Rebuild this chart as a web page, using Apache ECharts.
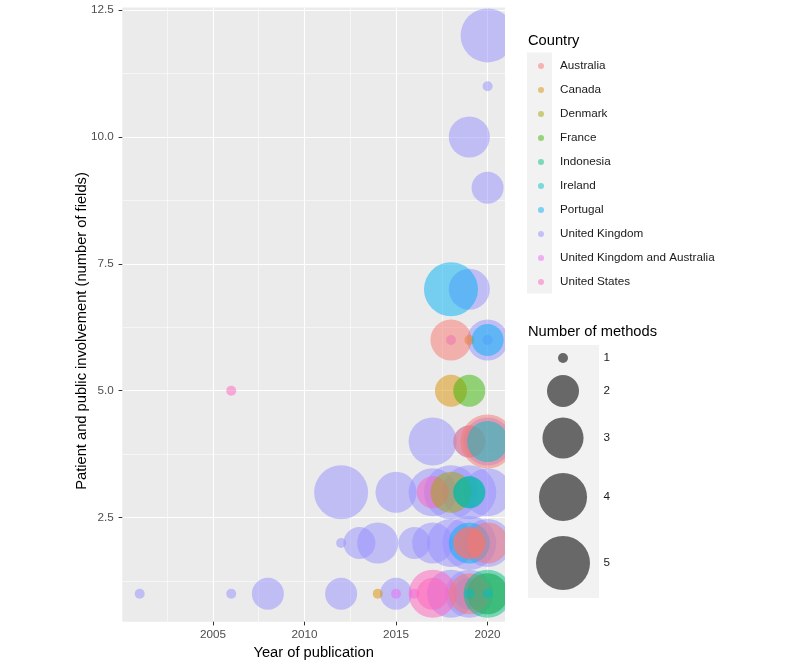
<!DOCTYPE html>
<html><head><meta charset="utf-8">
<script src="https://cdn.jsdelivr.net/npm/echarts@6/dist/echarts.min.js"></script>
<style>html,body{margin:0;padding:0;background:#fff}#c{width:800px;height:667px}</style>
</head><body><div id="c"></div>
<script>
// ---- data: [year of publication, PPI fields, number of methods] ----
const countries = ['Australia','Canada','Denmark','France','Indonesia','Ireland','Portugal','United Kingdom','United Kingdom and Australia','United States'];
const countryColors = ['#F8766D','#D89000','#A3A500','#39B600','#00BF7D','#00BFC4','#00B0F6','#9590FF','#E76BF3','#FF62BC'];
const unitedKingdom = [
  [2001,1,1],[2006,1,1],[2008,1,2],[2012,1,2],[2015,1,2],[2018,1,4],[2019,1,4],[2019,1,2],[2020,1,3],
  [2012,2,1],[2013,2,2],[2014,2,3],[2016,2,2],[2017,2,3],[2018,2,4],[2019,2,5],[2020,2,4],
  [2012,3,5],[2015,3,3],[2017,3,4],[2018,3,5],[2019,3,5],[2020,3,4],[2019,3,1],
  [2017,4,4],[2019,4,2],[2020,4,4],
  [2020,6,3],[2020,6,1],
  [2019,7,3],[2020,9,2],[2019,10,3],[2020,11,1],[2020,12,5]
];
const australia = [[2018,6,3],[2019,4,2],[2020,4,5],[2019,2,2],[2019,2,2],[2020,2,3],[2019,1,3]];
const canada = [[2014,1,1],[2018,5,2],[2019,6,1]];
const denmark = [[2018,3,3]];
const france = [[2019,5,2],[2020,1,3]];
const indonesia = [[2019,3,2],[2020,1,4]];
const ireland = [[2020,4,3],[2019,1,1],[2020,1,1]];
const portugal = [[2018,7,5],[2020,6,2],[2019,3,2],[2019,2,3]];
const ukAndAustralia = [[2018,6,1],[2015,1,1],[2016,1,1]];
const unitedStates = [[2006,5,1],[2017,3,2],[2017,1,4],[2017,1,2]];
const xTicks = [2005,2010,2015,2020];
const yTicks = [2.5,5,7.5,10,12.5];
const sizeBreaks = [1,2,3,4,5];

const byCountry = {
  'Australia': australia, 'Canada': canada, 'Denmark': denmark, 'France': france,
  'Indonesia': indonesia, 'Ireland': ireland, 'Portugal': portugal,
  'United Kingdom': unitedKingdom, 'United Kingdom and Australia': ukAndAustralia,
  'United States': unitedStates
};
const drawOrder = ['United Kingdom','United Kingdom and Australia','United States','Canada','France','Denmark','Portugal','Australia','Indonesia','Ireland'];

const FONT = '"Liberation Sans", Arial, Helvetica, sans-serif';
const sizeOf = n => 10 + 44 * Math.sqrt((n - 1) / 4);
const xMin = 2000.05, xMax = 2020.95, yMin = 0.45, yMax = 12.55;
const xMinor = xTicks.map(t => t - 2.5);
const yMinor = yTicks.map(t => t - 1.25);

const chart = echarts.init(document.getElementById('c'));

const series = drawOrder.map(name => ({
  type: 'scatter', name: name, data: byCountry[name],
  xAxisIndex: 0, yAxisIndex: 0,
  symbol: 'circle',
  symbolSize: v => sizeOf(v[2]),
  itemStyle: { color: countryColors[countries.indexOf(name)], opacity: 0.5 },
  emphasis: { disabled: true }, silent: true, clip: false, z: 2
}));

// legend decorations + size legend
const sizeCenters = [358, 391, 438, 497, 563];
const graphics = [
  { type: 'rect', shape: { x: 527, y: 52.5, width: 25, height: 241 }, style: { fill: '#F2F2F2' }, z: 0, silent: true },
  { type: 'text', x: 528, y: 40.5, style: { text: 'Country', fontSize: 14.7, fontFamily: FONT, fill: '#000', verticalAlign: 'middle' }, silent: true },
  { type: 'text', x: 528, y: 332, style: { text: 'Number of methods', fontSize: 14.7, fontFamily: FONT, fill: '#000', verticalAlign: 'middle' }, silent: true },
  { type: 'rect', shape: { x: 528, y: 345, width: 71, height: 253 }, style: { fill: '#F2F2F2' }, z: 0, silent: true },
  { type: 'text', x: 82, y: 331, rotation: Math.PI / 2,
    style: { text: 'Patient and public involvement (number of fields)', fontSize: 14.7, fontFamily: FONT, fill: '#000', align: 'center', verticalAlign: 'middle' }, silent: true }
];
sizeBreaks.forEach((n, i) => {
  graphics.push({ type: 'circle', shape: { cx: 563, cy: sizeCenters[i], r: sizeOf(n) / 2 }, style: { fill: 'rgba(0,0,0,0.57)' }, z: 1, silent: true });
  graphics.push({ type: 'text', x: 603.5, y: sizeCenters[i], style: { text: String(n), fontSize: 11.7, fontFamily: FONT, fill: '#1A1A1A', verticalAlign: 'middle' }, z: 1, silent: true });
});

const option = {
  animation: false,
  backgroundColor: '#fff',
  grid: { left: 122.3, right: 295, top: 7.5, bottom: 45.3, show: true, backgroundColor: '#EBEBEB', borderWidth: 0 },
  xAxis: [
    { type: 'value', min: xMin, max: xMax,
      axisLine: { show: false },
      axisTick: { show: true, length: 3.7, customValues: xTicks, lineStyle: { color: '#333333', width: 1 } },
      axisLabel: { customValues: xTicks, color: '#4D4D4D', fontSize: 11.7, fontFamily: FONT, margin: 7, formatter: v => String(v) },
      splitLine: { show: true, lineStyle: { color: '#FFFFFF', width: 1.1 } },
      name: 'Year of publication', nameLocation: 'middle', nameGap: 20,
      nameTextStyle: { fontSize: 14.7, fontFamily: FONT, color: '#000' } },
    { type: 'value', min: xMin, max: xMax, gridIndex: 0,
      axisLine: { show: false }, axisTick: { show: false, customValues: xMinor },
      axisLabel: { show: false }, splitLine: { show: true, lineStyle: { color: '#FFFFFF', width: 0.55 } } }
  ],
  yAxis: [
    { type: 'value', min: yMin, max: yMax,
      axisLine: { show: false },
      axisTick: { show: true, length: 3.7, customValues: yTicks, lineStyle: { color: '#333333', width: 1 } },
      axisLabel: { customValues: yTicks, color: '#4D4D4D', fontSize: 11.7, fontFamily: FONT, margin: 8.5, formatter: v => v.toFixed(1) },
      splitLine: { show: true, lineStyle: { color: '#FFFFFF', width: 1.1 } } },
    { type: 'value', min: yMin, max: yMax, gridIndex: 0,
      axisLine: { show: false }, axisTick: { show: false, customValues: yMinor },
      axisLabel: { show: false }, splitLine: { show: true, lineStyle: { color: '#FFFFFF', width: 0.55 } } }
  ],
  legend: {
    data: countries, orient: 'vertical', left: 538, top: 59, padding: 0,
    itemWidth: 28, itemHeight: 6, itemGap: 10, icon: 'circle', selectedMode: false,
    itemStyle: { opacity: 0.5 },
    textStyle: { fontSize: 11.7, lineHeight: 14, color: '#1A1A1A', fontFamily: FONT }
  },
  graphic: graphics,
  series: series
};
chart.setOption(option);

// clip bubbles at the panel's right edge (ggplot clips to the panel)
const rightPx = chart.convertToPixel({ xAxisIndex: 0 }, xMax);
const bottomPx = chart.convertToPixel({ yAxisIndex: 0 }, yMin);
graphics.push({ type: 'rect', shape: { x: rightPx, y: 0, width: 520 - rightPx, height: bottomPx }, style: { fill: '#FFFFFF' }, z: 50, silent: true });
chart.setOption({ graphic: graphics });
</script>
</body></html>
